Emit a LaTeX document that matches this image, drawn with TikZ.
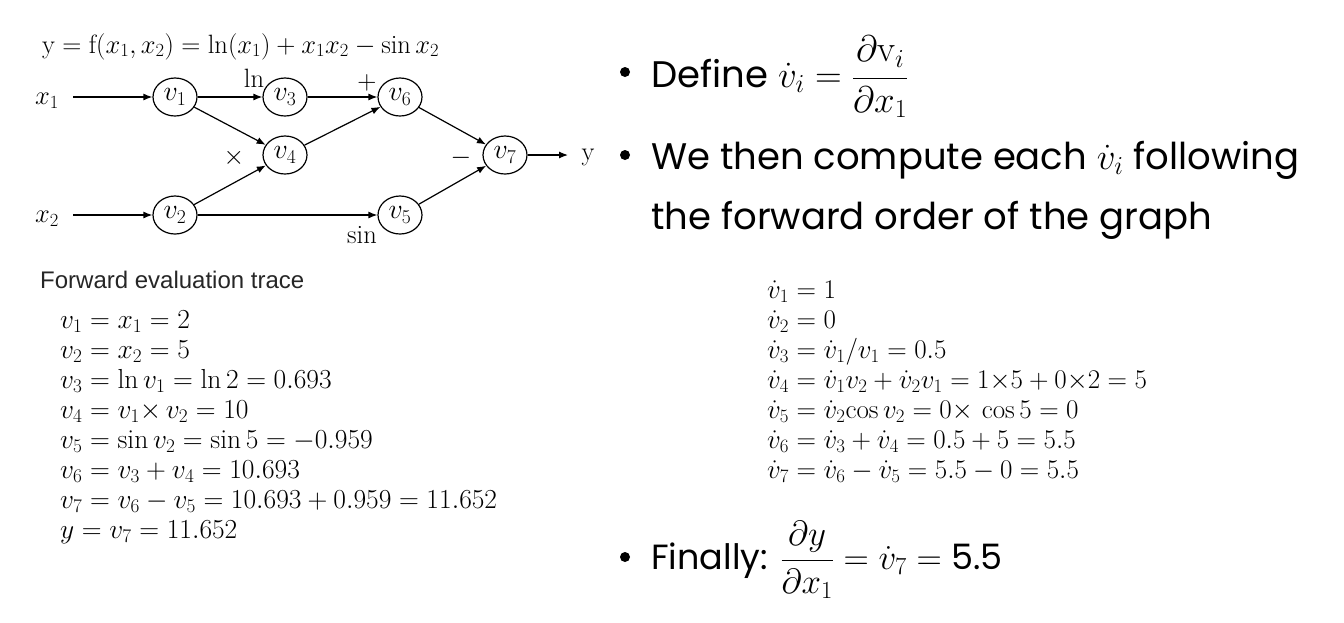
\documentclass[tikz,border=0pt]{standalone}
\usepackage{fix-cm}
\usepackage{fontspec}
\usetikzlibrary{arrows.meta,shapes.geometric}
\newfontfamily\arialf{Liberation Sans}
\newfontfamily\gothicf{Poppins}
\tikzset{
  vnode/.style={ellipse,draw,line width=1.2pt,minimum width=44pt,minimum height=38pt,inner sep=0pt,font=\fontsize{28}{30}\selectfont},
  edge/.style={line width=1.2pt,-{Latex[length=9pt,width=7pt]}},
  glabel/.style={inner sep=0pt,font=\fontsize{26.5}{28}\selectfont},
  trace/.style={inner sep=0pt,anchor=base west,font=\fontsize{27.5}{30}\selectfont},
  deriv/.style={inner sep=0pt,anchor=base west,font=\fontsize{27}{30}\selectfont},
  bullettext/.style={inner sep=0pt,anchor=base west,font=\gothicf\fontsize{37}{40}\selectfont},
  bulletdot/.style={circle,fill=black,inner sep=0pt,minimum size=10pt},
}
\begin{document}
\begin{tikzpicture}[x=1pt,y=-1pt]
\useasboundingbox (0,0) rectangle (1344,622);
% title
\node[glabel,anchor=base west] (title) at (42,53) {$\mathrm{y}=\mathrm{f}(x_1,x_2)=\ln(x_1)+x_1x_2-\sin x_2$};
% graph nodes
\node[vnode] (v1) at (175,97) {$v_1$};
\node[vnode] (v3) at (285,97) {$v_3$};
\node[vnode] (v6) at (400,97) {$v_6$};
\node[vnode] (v4) at (285,155) {$v_4$};
\node[vnode] (v7) at (505,155) {$v_7$};
\node[vnode] (v2) at (175,215) {$v_2$};
\node[vnode] (v5) at (400,215) {$v_5$};
\node[glabel] (x1) at (47,101) {$x_1$};
\node[glabel] (x2) at (47,219) {$x_2$};
\node[glabel] (yout) at (588,157) {$\mathrm{y}$};
\coordinate (a1) at (73,97);
\coordinate (a2) at (73,215);
\coordinate (ay) at (568,155);
\draw[edge] (a1) -- (v1);
\draw[edge] (a2) -- (v2);
\draw[edge] (v1) -- (v3);
\draw[edge] (v1) -- (v4);
\draw[edge] (v2) -- (v4);
\draw[edge] (v2) -- (v5);
\draw[edge] (v3) -- (v6);
\draw[edge] (v4) -- (v6);
\draw[edge] (v6) -- (v7);
\draw[edge] (v5) -- (v7);
\draw[edge] (v7) -- (ay);
\node[glabel] (lln) at (254,78) {$\ln$};
\node[glabel] (lplus) at (367,83) {$+$};
\node[glabel] (ltimes) at (234,158) {$\times$};
\node[glabel] (lminus) at (461,158) {$-$};
\node[glabel] (lsin) at (362,235) {$\sin$};
% forward trace
\node[inner sep=0pt,anchor=base west,font=\arialf\fontsize{24}{26}\selectfont,text=black!85] (ftitle) at (40,288) {Forward evaluation trace};
\foreach \s [count=\i] in {
  {$v_1 = x_1 = 2$},
  {$v_2 = x_2 = 5$},
  {$v_3 = \ln v_1 = \ln 2 = 0.693$},
  {$v_4 = v_1{\times}\, v_2 = 10$},
  {$v_5 = \sin v_2 = \sin 5 = -0.959$},
  {$v_6 = v_3 + v_4 = 10.693$},
  {$v_7 = v_6 - v_5 = 10.693 + 0.959 = 11.652$},
  {$y = v_7 = 11.652$}}
  \node[trace] (t\i) at (60,{328+30*(\i-1)}) {\s};
% derivative trace
\foreach \s [count=\i] in {
  {$\dot v_1 = 1$},
  {$\dot v_2 = 0$},
  {$\dot v_3 = \dot v_1/v_1 = 0.5$},
  {$\dot v_4 = \dot v_1 v_2 + \dot v_2 v_1 = 1{\times}5 + 0{\times}2 = 5$},
  {$\dot v_5 = \dot v_2\mathrm{cos}\,v_2 = 0{\times}\,\cos 5 = 0$},
  {$\dot v_6 = \dot v_3 + \dot v_4 = 0.5 + 5 = 5.5$},
  {$\dot v_7 = \dot v_6 - \dot v_5 = 5.5 - 0 = 5.5$}}
  \node[deriv] (d\i) at (767,{298+30*(\i-1)}) {\s};
% bullets
\node[bulletdot] (b1) at (625,72) {};
\node[bulletdot] (b2) at (625,155) {};
\node[bulletdot] (b3) at (625,557) {};
\node[bullettext] (l1) at (651,87) {Define $\dot v_i = \displaystyle\frac{\partial \mathrm{v}_i}{\partial x_1}$};
\node[bullettext] (l2) at (651,169) {We then compute each $\dot v_i$ following};
\node[bullettext] (l3) at (651,229) {the forward order of the graph};
\node[bullettext,font=\gothicf\fontsize{35}{40}\selectfont] (l4) at (651,569) {Finally: $\displaystyle\frac{\partial y}{\partial x_1} = \dot v_7 =$ 5.5};
\end{tikzpicture}
\end{document}
